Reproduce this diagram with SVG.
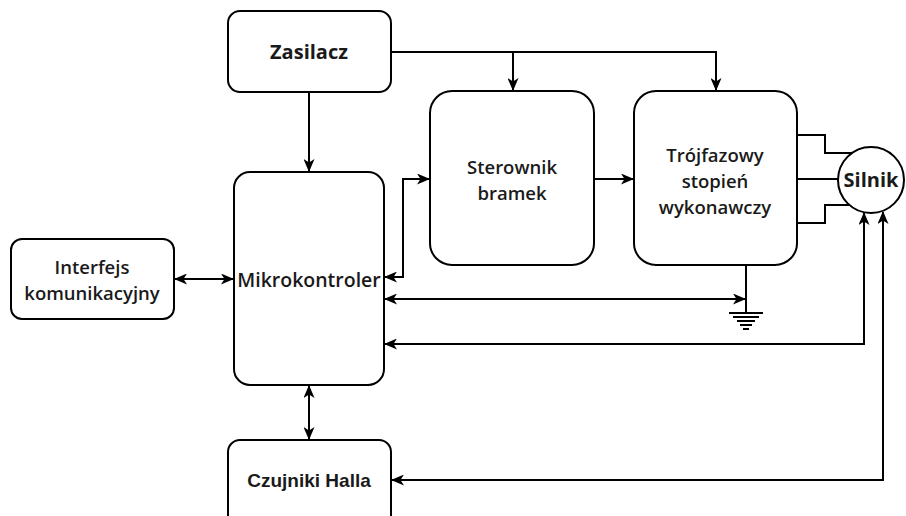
<svg xmlns="http://www.w3.org/2000/svg" width="906" height="516" viewBox="0 0 906 516">
<style>
.box{fill:#fff;stroke:#000;stroke-width:2}
.ln{fill:none;stroke:#000;stroke-width:2}
.t{font-family:"Open Sans","Liberation Sans",sans-serif;font-size:19.5px;font-weight:600;fill:#1a1a1a;text-anchor:middle}
.tm{font-family:"Open Sans","Liberation Sans",sans-serif;font-size:18.5px;font-weight:600;fill:#1a1a1a;text-anchor:middle}
.tb{font-family:"Open Sans","Liberation Sans",sans-serif;font-size:20px;font-weight:700;fill:#1a1a1a;text-anchor:middle}
.ta{font-family:"Liberation Sans",Arial,sans-serif;font-size:19px;font-weight:700;fill:#1a1a1a;text-anchor:middle}
</style>
<defs>
<marker id="ae" viewBox="0 0 13 11" refX="12" refY="5.5" markerWidth="13" markerHeight="11" markerUnits="userSpaceOnUse" orient="auto">
<path d="M0,0 L13,5.5 L0,11 L3.5,5.5 z" fill="#000"/>
</marker>
<marker id="as" viewBox="0 0 13 11" refX="1" refY="5.5" markerWidth="13" markerHeight="11" markerUnits="userSpaceOnUse" orient="auto">
<path d="M13,0 L0,5.5 L13,11 L9.5,5.5 z" fill="#000"/>
</marker>
</defs>
<g id="connectors">
<path class="ln" d="M309,92 V171" marker-end="url(#ae)"/>
<path class="ln" d="M391,52 H716 V90" marker-end="url(#ae)"/>
<path class="ln" d="M513,52 V90" marker-end="url(#ae)"/>
<path class="ln" d="M594,179 H633" marker-end="url(#ae)"/>
<path class="ln" d="M385,277 H403 V179 H429" marker-start="url(#as)" marker-end="url(#ae)"/>
<path class="ln" d="M175,279 H233" marker-start="url(#as)" marker-end="url(#ae)"/>
<path class="ln" d="M309,386 V439" marker-start="url(#as)" marker-end="url(#ae)"/>
<path class="ln" d="M385,299 H745" marker-start="url(#as)" marker-end="url(#ae)"/>
<path class="ln" d="M746,265 V312"/>
<path class="ln" d="M864,213 V344 H385" marker-start="url(#as)" marker-end="url(#ae)"/>
<path class="ln" d="M883,212 V480 H392" marker-start="url(#as)" marker-end="url(#ae)"/>
<path class="ln" d="M797,135 H825 V153 H852"/>
<path class="ln" d="M797,179 H838"/>
<path class="ln" d="M797,223 H825 V205 H849"/>
<g stroke="#000" stroke-width="2">
<line x1="729" y1="313" x2="763" y2="313"/>
<line x1="733" y1="317" x2="759" y2="317"/>
<line x1="737" y1="321" x2="755" y2="321"/>
<line x1="740" y1="325" x2="752" y2="325"/>
<line x1="743" y1="329" x2="749" y2="329"/>
</g>
</g>
<g id="zasilacz">
<rect class="box" x="228" y="11" width="163" height="81" rx="12"/>
<text class="tb" x="309" y="59">Zasilacz</text>
</g>
<g id="mikrokontroler">
<rect class="box" x="234" y="172" width="150" height="213" rx="16"/>
<text class="t" x="309" y="287">Mikrokontroler</text>
</g>
<g id="interfejs">
<rect class="box" x="11" y="239" width="163" height="80" rx="11"/>
<text class="tm" x="92" y="274">Interfejs</text>
<text class="tm" x="92" y="300">komunikacyjny</text>
</g>
<g id="sterownik">
<rect class="box" x="430" y="91" width="164" height="174" rx="22"/>
<text class="tm" x="512" y="174">Sterownik</text>
<text class="tm" x="512" y="200">bramek</text>
</g>
<g id="trojfazowy">
<rect class="box" x="634" y="91" width="163" height="174" rx="22"/>
<text class="tm" x="715" y="162">Trójfazowy</text>
<text class="tm" x="715" y="188">stopień</text>
<text class="tm" x="715" y="214">wykonawczy</text>
</g>
<g id="silnik">
<circle class="box" cx="871" cy="180" r="33"/>
<text class="tb" x="871" y="187">Silnik</text>
</g>
<g id="czujniki">
<rect class="box" x="228" y="440" width="163" height="90" rx="12"/>
<text class="ta" x="309" y="487">Czujniki Halla</text>
</g>
</svg>
